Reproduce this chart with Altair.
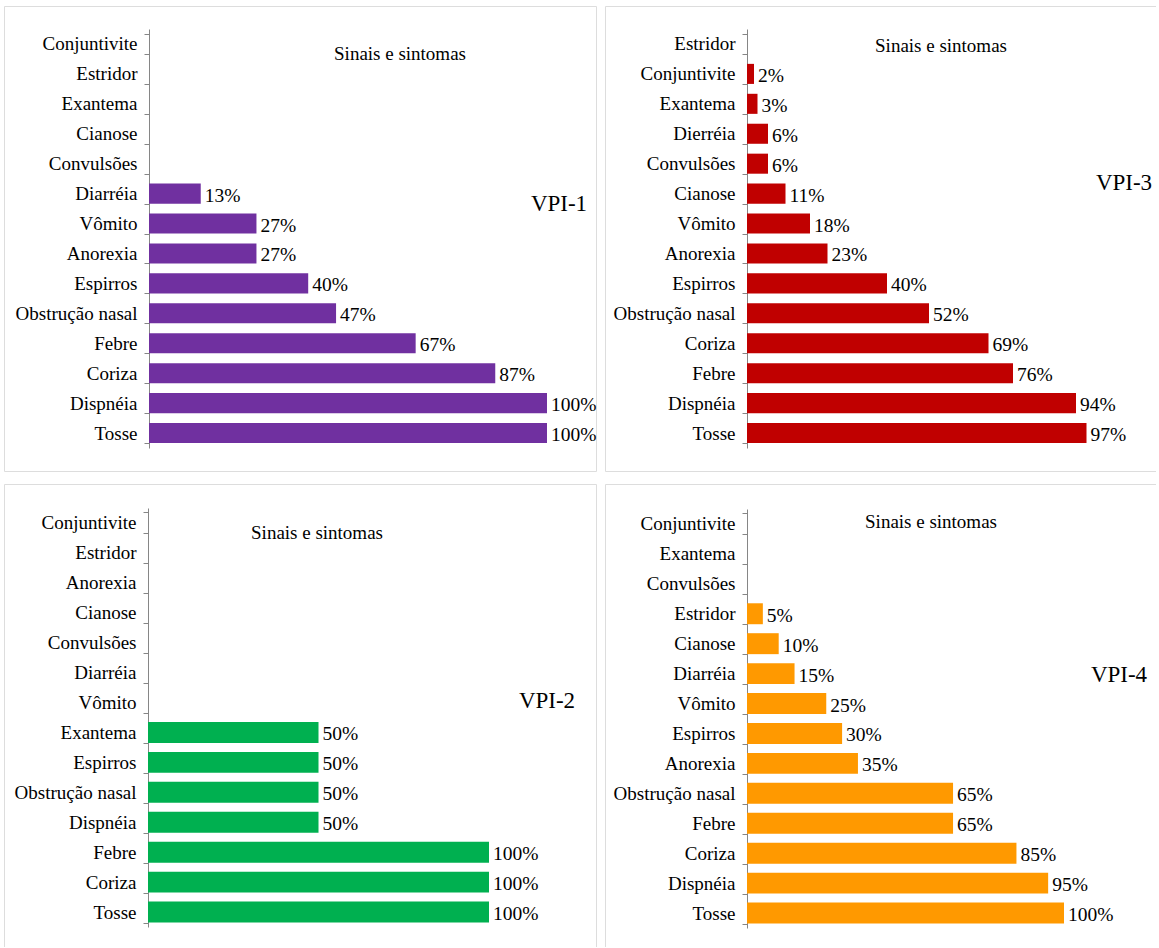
import altair as alt
import pandas as pd

# ---- data ----
vpi1_cats = ["Conjuntivite", "Estridor", "Exantema\u00a0", "Cianose", "Convulsões", "Diarréia", "Vômito",
             "Anorexia", "Espirros\u00a0", "Obstrução nasal", "Febre", "Coriza", "Dispnéia\u00a0", "Tosse\u00a0"]
vpi1_vals = [None, None, None, None, None, 13, 27, 27, 40, 47, 67, 87, 100, 100]

vpi3_cats = ["Estridor", "Conjuntivite", "Exantema\u00a0", "Dierréia", "Convulsões", "Cianose", "Vômito",
             "Anorexia", "Espirros\u00a0", "Obstrução nasal", "Coriza", "Febre", "Dispnéia\u00a0", "Tosse\u00a0"]
vpi3_vals = [None, 2, 3, 6, 6, 11, 18, 23, 40, 52, 69, 76, 94, 97]

vpi2_cats = ["Conjuntivite", "Estridor", "Anorexia", "Cianose", "Convulsões", "Diarréia", "Vômito",
             "Exantema\u00a0", "Espirros\u00a0", "Obstrução nasal", "Dispnéia", "Febre", "Coriza", "Tosse\u00a0"]
vpi2_vals = [None, None, None, None, None, None, None, 50, 50, 50, 50, 100, 100, 100]

vpi4_cats = ["Conjuntivite", "Exantema", "Convulsões", "Estridor", "Cianose", "Diarréia", "Vômito",
             "Espirros", "Anorexia", "Obstrução nasal", "Febre", "Coriza", "Dispnéia\u00a0", "Tosse\u00a0"]
vpi4_vals = [None, None, None, 5, 10, 15, 25, 30, 35, 65, 65, 85, 95, 100]

title_text = "Sinais e sintomas"
FONT = "Liberation Serif"


def panel(cats, vals, color, name, width, height, axis_x, x100, y0, y1, pad_inner, title_xy, name_xy):
    df = pd.DataFrame({"cat": cats, "value": vals})
    df["label"] = [f"{int(v)}%" if v is not None and v == v else "" for v in vals]
    base = alt.Chart(df).encode(
        y=alt.Y("cat:N", sort=cats,
                scale=alt.Scale(domain=cats, range=[y0, y1], paddingInner=pad_inner,
                                paddingOuter=pad_inner / 2),
                axis=alt.Axis(title=None, offset=-axis_x, tickBand="extent", tickSize=5,
                              tickColor="#868686", domainColor="#868686", labelPadding=7,
                              labelFont=FONT, labelFontSize=19, labelColor="black",
                              labelLimit=300))
    )
    xs = alt.Scale(domain=[0, 100], range=[axis_x, x100])
    bars = base.mark_bar(color=color).encode(
        x=alt.X("value:Q", scale=xs, axis=None)
    ).transform_filter("isValid(datum.value)")
    labels = base.mark_text(align="left", baseline="middle", dx=4, dy=2, font=FONT, fontSize=19.5,
                            color="black").encode(
        x=alt.X("value:Q", scale=xs, axis=None), text="label:N"
    ).transform_filter("isValid(datum.value)")
    t1 = alt.Chart(pd.DataFrame({"t": [title_text]})).mark_text(
        font=FONT, fontSize=19, color="black", align="center", baseline="middle").encode(
        x=alt.value(title_xy[0]), y=alt.value(title_xy[1]), text="t:N")
    t2 = alt.Chart(pd.DataFrame({"t": [name]})).mark_text(
        font=FONT, fontSize=23, color="black", align="center", baseline="middle").encode(
        x=alt.value(name_xy[0]), y=alt.value(name_xy[1]), text="t:N")
    return alt.layer(bars, labels, t1, t2).properties(width=width, height=height)


p1 = panel(vpi1_cats, vpi1_vals, "#7030A0", "VPI-1", 592, 465, 145, 543, 23, 442, 0.33,
           (396, 48), (555, 198))
p3 = panel(vpi3_cats, vpi3_vals, "#C00000", "VPI-3", 560, 465, 142, 492, 23, 442, 0.33,
           (336, 40), (519, 177))
p2 = panel(vpi2_cats, vpi2_vals, "#00B050", "VPI-2", 592, 470, 144, 485, 24, 443, 0.3,
           (313, 49), (543, 217))
p4 = panel(vpi4_cats, vpi4_vals, "#FF9900", "VPI-4", 560, 470, 142, 459, 25, 444, 0.3,
           (326, 38), (514, 191))

chart = alt.concat(
    p1, p3, p2, p4, columns=2, spacing={"row": 13, "column": 9}, bounds="flush"
).properties(
    padding={"left": 3, "top": -4, "right": -10, "bottom": -8}
).configure_view(stroke="#999999", strokeWidth=1).configure(background="white")

chart.save("out.html", embed_options={"renderer": "svg", "actions": False})
